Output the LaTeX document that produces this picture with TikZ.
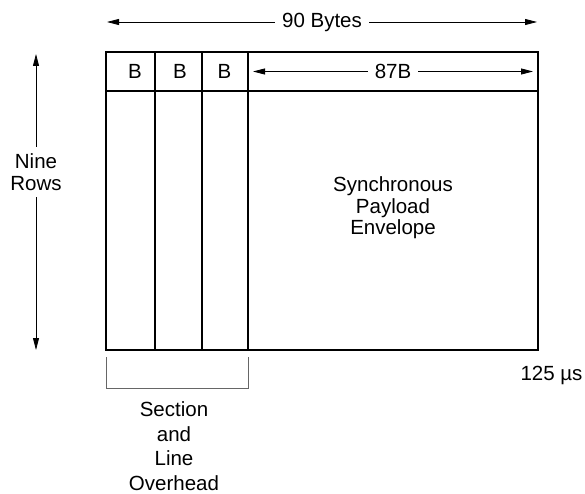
\documentclass[tikz,border=0pt]{standalone}
\usepackage{fontspec}
\setmainfont{Liberation Sans}
\usetikzlibrary{arrows.meta}

\begin{document}
\begin{tikzpicture}[x=1pt, y=1pt,
  every node/.style={font=\fontsize{20.5}{21.5}\selectfont, align=center, inner sep=7pt},
  dim/.style={-{Triangle[length=12pt,width=6pt]}, line width=0.8pt},
  cell/.style={line width=1.4pt}]
  \useasboundingbox (0,0) rectangle (585,493);

  % frame
  \draw[cell] (106,143) rectangle (538,441);
  \draw[cell] (106,402) -- (538,402);
  \foreach \x in {155,202,248}
    \draw[cell] (\x,143) -- (\x,441);

  % overhead bytes
  \node (b1) at (135,421.5) {B};
  \node (b2) at (180,421.5) {B};
  \node (b3) at (224.5,421.5) {B};

  % width of the frame
  \node (bytes) at (322,471) {90 Bytes};
  \coordinate (bytesW) at (107,471);
  \coordinate (bytesE) at (537,471);
  \draw[dim] (bytes) -- (bytesW);
  \draw[dim] (bytes) -- (bytesE);

  % width of the payload
  \node (pay) at (393,421.5) {87B};
  \coordinate (payW) at (253,421.5);
  \coordinate (payE) at (533,421.5);
  \draw[dim] (pay) -- (payW);
  \draw[dim] (pay) -- (payE);

  % height of the frame
  \node (rows) at (36,321) {Nine\\Rows};
  \coordinate (rowsN) at (36,439);
  \coordinate (rowsS) at (36,143);
  \draw[dim] (rows) -- (rowsN);
  \draw[dim] (rows) -- (rowsS);

  % payload envelope
  \node (spe) at (393,285) {Synchronous\\Payload\\Envelope};

  % overhead bracket
  \draw[gray!80!black, line width=0.8pt] (106,136) -- (106,105) -- (248,105) -- (248,136);
  \node (soh) at (174,47) {Section\\[3pt]and\\[3pt]Line\\[3pt]Overhead};

  % frame time
  \node (time) at (551.5,118) {125 µs};
\end{tikzpicture}
\end{document}
